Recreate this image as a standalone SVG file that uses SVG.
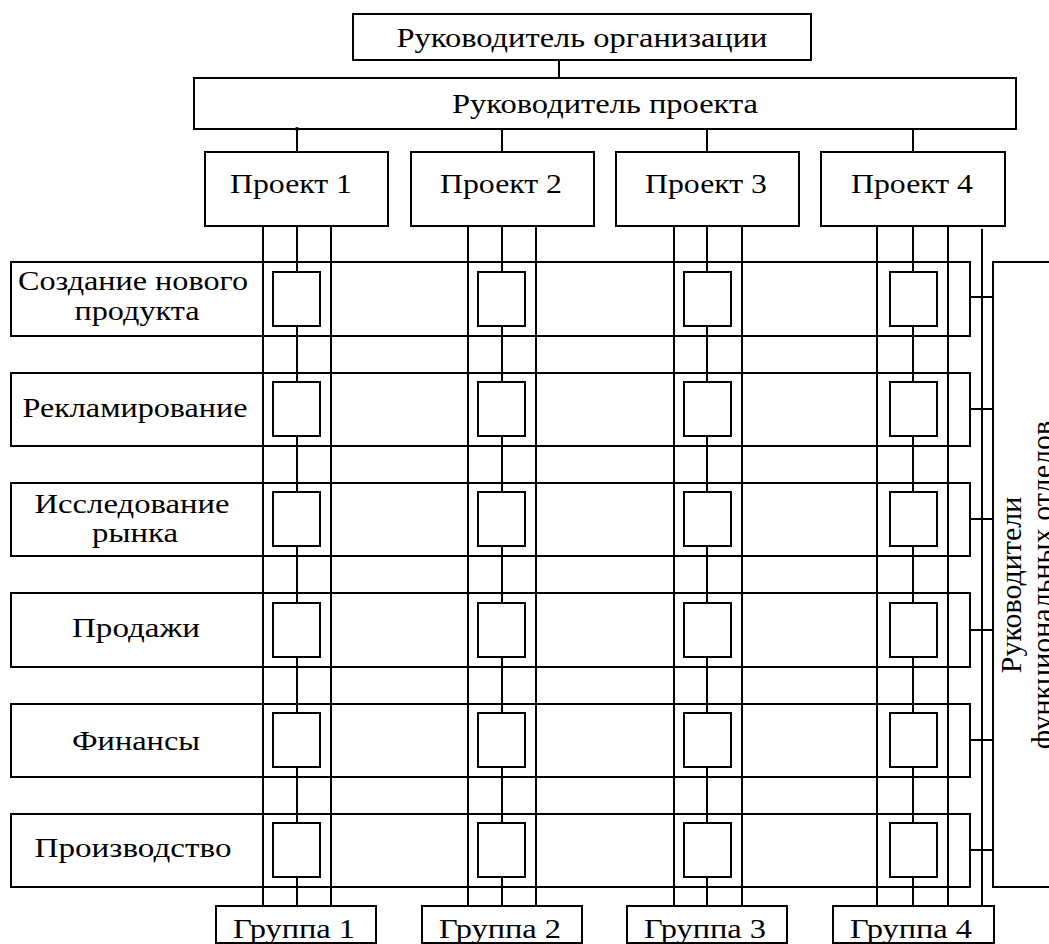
<svg xmlns="http://www.w3.org/2000/svg" width="1049" height="944" viewBox="0 0 1049 944">
  <style>
    .box { fill: #fff; stroke: #000; stroke-width: 2; }
    .cell { fill: #fff; stroke: #000; stroke-width: 2; }
    .ln { stroke: #000; stroke-width: 2; fill: none; }
    .t { font-family: "Liberation Serif", "Times New Roman", serif; font-size: 27px; fill: #000; text-anchor: middle; }
    .tv { font-family: "Liberation Serif", "Times New Roman", serif; font-size: 30px; fill: #000; text-anchor: middle; }
  </style>
  <rect width="1049" height="944" fill="#fff"/>

  <!-- top management -->
  <g id="org-head">
    <rect class="box" x="353" y="14" width="458" height="46"/>
    <text class="t" x="582" y="47" textLength="371" lengthAdjust="spacingAndGlyphs">Руководитель организации</text>
  </g>
  <g id="project-head">
    <rect class="box" x="194" y="78" width="822" height="51"/>
    <text class="t" x="605" y="113" textLength="306" lengthAdjust="spacingAndGlyphs">Руководитель проекта</text>
  </g>

  <!-- projects -->
  <g id="project-1">
    <rect class="box" x="205" y="152" width="183" height="74"/>
    <text class="t" x="291" y="193" textLength="122" lengthAdjust="spacingAndGlyphs">Проект 1</text>
  </g>
  <g id="project-2">
    <rect class="box" x="411" y="152" width="183" height="74"/>
    <text class="t" x="501" y="193" textLength="122" lengthAdjust="spacingAndGlyphs">Проект 2</text>
  </g>
  <g id="project-3">
    <rect class="box" x="616" y="152" width="183" height="74"/>
    <text class="t" x="706" y="193" textLength="122" lengthAdjust="spacingAndGlyphs">Проект 3</text>
  </g>
  <g id="project-4">
    <rect class="box" x="821" y="152" width="184" height="74"/>
    <text class="t" x="912" y="193" textLength="122" lengthAdjust="spacingAndGlyphs">Проект 4</text>
  </g>

  <!-- functional departments (rows) -->
  <g id="dept-1">
    <rect class="box" x="11" y="262" width="959" height="74"/>
    <text class="t" x="133" y="290" textLength="230" lengthAdjust="spacingAndGlyphs">Создание нового</text>
    <text class="t" x="137" y="320" textLength="125" lengthAdjust="spacingAndGlyphs">продукта</text>
  </g>
  <g id="dept-2">
    <rect class="box" x="11" y="373" width="959" height="73"/>
    <text class="t" x="135" y="417" textLength="225" lengthAdjust="spacingAndGlyphs">Рекламирование</text>
  </g>
  <g id="dept-3">
    <rect class="box" x="11" y="483" width="959" height="73"/>
    <text class="t" x="132" y="513" textLength="195" lengthAdjust="spacingAndGlyphs">Исследование</text>
    <text class="t" x="135" y="542" textLength="86" lengthAdjust="spacingAndGlyphs">рынка</text>
  </g>
  <g id="dept-4">
    <rect class="box" x="11" y="593" width="959" height="74"/>
    <text class="t" x="136" y="637" textLength="128" lengthAdjust="spacingAndGlyphs">Продажи</text>
  </g>
  <g id="dept-5">
    <rect class="box" x="11" y="704" width="959" height="73"/>
    <text class="t" x="136" y="750" textLength="128" lengthAdjust="spacingAndGlyphs">Финансы</text>
  </g>
  <g id="dept-6">
    <rect class="box" x="11" y="814" width="959" height="73"/>
    <text class="t" x="133" y="857" textLength="197" lengthAdjust="spacingAndGlyphs">Производство</text>
  </g>

  <!-- heads of functional departments -->
  <g id="dept-heads">
    <rect class="box" x="993" y="262" width="80" height="625"/>
    <text class="tv" transform="translate(1021 585) rotate(-90)">Руководители</text>
    <text class="tv" transform="translate(1052 585) rotate(-90)">функциональных отделов</text>
  </g>

  <!-- connectors -->
  <g id="connectors">
    <line class="ln" x1="559" y1="60" x2="559" y2="78"/>
    <line class="ln" x1="297" y1="129" x2="297" y2="152"/>
    <circle cx="297" cy="129" r="2" fill="#000"/>
    <line class="ln" x1="502" y1="129" x2="502" y2="152"/>
    <line class="ln" x1="707" y1="129" x2="707" y2="152"/>
    <line class="ln" x1="913" y1="129" x2="913" y2="152"/>

    <!-- project staff lines down to groups -->
    <line class="ln" x1="263" y1="226" x2="263" y2="906"/>
    <line class="ln" x1="297" y1="226" x2="297" y2="906"/>
    <line class="ln" x1="331" y1="226" x2="331" y2="906"/>
    <line class="ln" x1="468" y1="226" x2="468" y2="906"/>
    <line class="ln" x1="502" y1="226" x2="502" y2="906"/>
    <line class="ln" x1="536" y1="226" x2="536" y2="906"/>
    <line class="ln" x1="674" y1="226" x2="674" y2="906"/>
    <line class="ln" x1="707" y1="226" x2="707" y2="906"/>
    <line class="ln" x1="742" y1="226" x2="742" y2="906"/>
    <line class="ln" x1="877" y1="226" x2="877" y2="906"/>
    <line class="ln" x1="913" y1="226" x2="913" y2="906"/>
    <line class="ln" x1="948" y1="226" x2="948" y2="906"/>
    <line class="ln" x1="982" y1="229" x2="982" y2="906"/>

    <!-- department rows to their heads -->
    <line class="ln" x1="970" y1="297" x2="993" y2="297"/>
    <line class="ln" x1="970" y1="409" x2="993" y2="409"/>
    <line class="ln" x1="970" y1="519" x2="993" y2="519"/>
    <line class="ln" x1="970" y1="630" x2="993" y2="630"/>
    <line class="ln" x1="970" y1="740" x2="993" y2="740"/>
    <line class="ln" x1="970" y1="850" x2="993" y2="850"/>
  </g>

  <!-- work cells at row/project intersections -->
  <g id="cells">
    <rect class="cell" x="273" y="272" width="47" height="54"/>
    <rect class="cell" x="478" y="272" width="47" height="54"/>
    <rect class="cell" x="684" y="272" width="47" height="54"/>
    <rect class="cell" x="890" y="272" width="47" height="54"/>

    <rect class="cell" x="273" y="382" width="47" height="54"/>
    <rect class="cell" x="478" y="382" width="47" height="54"/>
    <rect class="cell" x="684" y="382" width="47" height="54"/>
    <rect class="cell" x="890" y="382" width="47" height="54"/>

    <rect class="cell" x="273" y="492" width="47" height="54"/>
    <rect class="cell" x="478" y="492" width="47" height="54"/>
    <rect class="cell" x="684" y="492" width="47" height="54"/>
    <rect class="cell" x="890" y="492" width="47" height="54"/>

    <rect class="cell" x="273" y="603" width="47" height="54"/>
    <rect class="cell" x="478" y="603" width="47" height="54"/>
    <rect class="cell" x="684" y="603" width="47" height="54"/>
    <rect class="cell" x="890" y="603" width="47" height="54"/>

    <rect class="cell" x="273" y="713" width="47" height="54"/>
    <rect class="cell" x="478" y="713" width="47" height="54"/>
    <rect class="cell" x="684" y="713" width="47" height="54"/>
    <rect class="cell" x="890" y="713" width="47" height="54"/>

    <rect class="cell" x="273" y="823" width="47" height="54"/>
    <rect class="cell" x="478" y="823" width="47" height="54"/>
    <rect class="cell" x="684" y="823" width="47" height="54"/>
    <rect class="cell" x="890" y="823" width="47" height="54"/>
  </g>

  <!-- groups -->
  <g id="group-1">
    <rect class="box" x="216" y="906" width="160" height="37"/>
    <text class="t" x="294" y="938" textLength="122" lengthAdjust="spacingAndGlyphs">Группа 1</text>
  </g>
  <g id="group-2">
    <rect class="box" x="422" y="906" width="160" height="37"/>
    <text class="t" x="500" y="938" textLength="122" lengthAdjust="spacingAndGlyphs">Группа 2</text>
  </g>
  <g id="group-3">
    <rect class="box" x="627" y="906" width="160" height="37"/>
    <text class="t" x="705" y="938" textLength="122" lengthAdjust="spacingAndGlyphs">Группа 3</text>
  </g>
  <g id="group-4">
    <rect class="box" x="833" y="906" width="161" height="37"/>
    <text class="t" x="911" y="938" textLength="122" lengthAdjust="spacingAndGlyphs">Группа 4</text>
  </g>
</svg>
